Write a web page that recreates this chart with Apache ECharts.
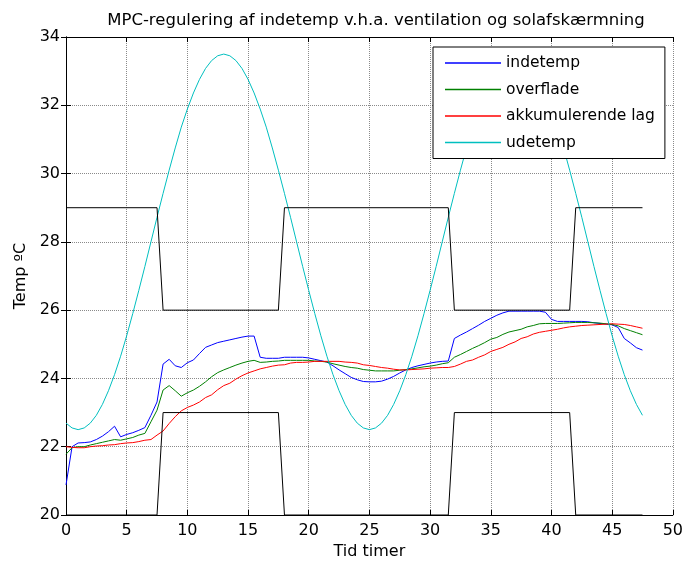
<!DOCTYPE html>
<html lang="da">
<head>
    <meta charset="UTF-8">
    <title>MPC-regulering</title>
    <style>
        html, body {
            margin: 0;
            padding: 0;
            background-color: #fff;
        }
    </style>
</head>
<body>
<div id="chart" style="width: 686px;height:569px;"></div>
<script src="https://cdn.jsdelivr.net/npm/echarts@6/dist/echarts.min.js"></script>
<script>
    // tid i timer, halvtimes skridt
    var tider = [
        0, 0.5, 1, 1.5, 2, 2.5, 3, 3.5,
        4, 4.5, 5, 5.5, 6, 6.5, 7, 7.5,
        8, 8.5, 9, 9.5, 10, 10.5, 11, 11.5,
        12, 12.5, 13, 13.5, 14, 14.5, 15, 15.5,
        16, 16.5, 17, 17.5, 18, 18.5, 19, 19.5,
        20, 20.5, 21, 21.5, 22, 22.5, 23, 23.5,
        24, 24.5, 25, 25.5, 26, 26.5, 27, 27.5,
        28, 28.5, 29, 29.5, 30, 30.5, 31, 31.5,
        32, 32.5, 33, 33.5, 34, 34.5, 35, 35.5,
        36, 36.5, 37, 37.5, 38, 38.5, 39, 39.5,
        40, 40.5, 41, 41.5, 42, 42.5, 43, 43.5,
        44, 44.5, 45, 45.5, 46, 46.5, 47, 47.5
    ];
    var indetemp = [
        20.88, 22.0, 22.11, 22.12, 22.14, 22.21, 22.31, 22.44,
        22.6, 22.29, 22.36, 22.41, 22.48, 22.56, 22.92, 23.31,
        24.42, 24.56, 24.37, 24.32, 24.46, 24.54, 24.73, 24.91,
        24.98, 25.05, 25.09, 25.13, 25.17, 25.21, 25.24, 25.24,
        24.62, 24.59, 24.59, 24.59, 24.62, 24.62, 24.62, 24.62,
        24.6, 24.56, 24.52, 24.48, 24.37, 24.25, 24.14, 24.03,
        23.96, 23.91, 23.9, 23.9, 23.92, 23.98, 24.06, 24.16,
        24.25, 24.32, 24.37, 24.41, 24.45, 24.48, 24.5, 24.51,
        25.17, 25.27, 25.36, 25.46, 25.56, 25.67, 25.76, 25.85,
        25.92, 25.97, 25.97, 25.97, 25.97, 25.97, 25.97, 25.94,
        25.73, 25.67, 25.67, 25.67, 25.67, 25.67, 25.66, 25.63,
        25.61, 25.59, 25.57, 25.49, 25.17, 25.04, 24.9, 24.83
    ];
    var overflade = [
        21.78, 21.97, 22.0, 22.0, 22.05, 22.09, 22.13, 22.17,
        22.21, 22.19, 22.23, 22.27, 22.34, 22.39, 22.73, 23.07,
        23.66, 23.79, 23.64, 23.48, 23.58, 23.66, 23.77, 23.9,
        24.05, 24.17, 24.25, 24.32, 24.39, 24.45, 24.5, 24.53,
        24.47, 24.48, 24.5, 24.51, 24.53, 24.53, 24.53, 24.53,
        24.53, 24.51, 24.5, 24.48, 24.43, 24.39, 24.35, 24.32,
        24.3, 24.26, 24.24, 24.22, 24.22, 24.22, 24.22, 24.24,
        24.26, 24.28, 24.31, 24.34, 24.36, 24.39, 24.43, 24.46,
        24.62, 24.7, 24.79, 24.88, 24.96, 25.05, 25.15, 25.2,
        25.29, 25.36, 25.4, 25.44, 25.51, 25.55, 25.6, 25.61,
        25.61, 25.61, 25.62, 25.63, 25.64, 25.64, 25.64, 25.63,
        25.62, 25.6, 25.58, 25.54, 25.46, 25.4, 25.34, 25.28
    ];
    var akkLag = [
        22.0, 21.98, 21.97, 21.97, 22.0, 22.02, 22.03, 22.05,
        22.06, 22.09, 22.11, 22.12, 22.15, 22.19, 22.21, 22.34,
        22.46, 22.68, 22.88, 23.05, 23.15, 23.22, 23.31, 23.44,
        23.52, 23.67, 23.79, 23.86, 23.98, 24.08, 24.16, 24.22,
        24.28, 24.32, 24.36, 24.39, 24.4, 24.45, 24.47, 24.47,
        24.48, 24.5, 24.5, 24.5, 24.5, 24.5, 24.48, 24.47,
        24.45, 24.4, 24.38, 24.35, 24.32, 24.3, 24.27, 24.25,
        24.25, 24.26, 24.27, 24.28, 24.3, 24.31, 24.32, 24.32,
        24.35, 24.42, 24.5, 24.54, 24.62, 24.69, 24.79, 24.85,
        24.91, 25.0, 25.07, 25.17, 25.22, 25.3, 25.35, 25.38,
        25.41, 25.44, 25.48, 25.51, 25.53, 25.55, 25.56, 25.57,
        25.58, 25.59, 25.6, 25.59, 25.58, 25.55, 25.51, 25.47
    ];
    var udetemp = [
        22.69, 22.55, 22.5, 22.55, 22.69, 22.92, 23.24, 23.64,
        24.11, 24.65, 25.25, 25.9, 26.58, 27.28, 28.0, 28.72,
        29.42, 30.1, 30.75, 31.36, 31.89, 32.36, 32.76, 33.08,
        33.31, 33.45, 33.5, 33.45, 33.31, 33.08, 32.76, 32.36,
        31.89, 31.36, 30.75, 30.1, 29.42, 28.72, 28.0, 27.28,
        26.58, 25.9, 25.25, 24.65, 24.11, 23.64, 23.24, 22.92,
        22.69, 22.55, 22.5, 22.55, 22.69, 22.92, 23.24, 23.64,
        24.11, 24.65, 25.25, 25.9, 26.58, 27.28, 28.0, 28.72,
        29.42, 30.1, 30.75, 31.36, 31.89, 32.36, 32.76, 33.08,
        33.31, 33.45, 33.5, 33.45, 33.31, 33.08, 32.76, 32.36,
        31.89, 31.36, 30.75, 30.1, 29.42, 28.72, 28.0, 27.28,
        26.58, 25.9, 25.25, 24.65, 24.11, 23.64, 23.24, 22.92
    ];
    // styresignaler (ventilation / solafskærmning), kun knækpunkter
    var signalTider = [0, 7.5, 8, 17.5, 18, 31.5, 32, 41.5, 42, 47.5];
    var ventilation = [29, 29, 26, 26, 29, 29, 26, 26, 29, 29];
    var solafskaerm = [20, 20, 23, 23, 20, 20, 23, 23, 20, 20];

    var xTicks = [0, 5, 10, 15, 20, 25, 30, 35, 40, 45, 50];
    var yTicks = [20, 22, 24, 26, 28, 30, 32, 34];

    function par(xs, ys) {
        var ud = [];
        for (var i = 0; i < xs.length; i++) {
            ud.push([xs[i], ys[i]]);
        }
        return ud;
    }

    var font = 'DejaVu Sans';
    var lineSerie = function(name, data, color) {
        return {
            name: name,
            type: 'line',
            data: data,
            symbol: 'none',
            showSymbol: false,
            lineStyle: {color: color, width: 1},
            itemStyle: {color: color},
            emphasis: {disabled: true},
            animation: false
        };
    };

    var myChart = echarts.init(document.getElementById('chart'));
    var option = {
        textStyle: {fontFamily: font},
        title: {
            text: 'MPC-regulering af indetemp v.h.a. ventilation og solafskærmning',
            left: 371,
            textAlign: 'center',
            top: 7,
            textStyle: {fontFamily: font, fontSize: 16.5, fontWeight: 'normal', color: '#000'}
        },
        legend: {
            data: ['indetemp', 'overflade', 'akkumulerende lag', 'udetemp'],
            orient: 'vertical',
            left: 433,
            top: 47,
            padding: [6, 10, 6, 12],
            itemGap: 6.5,
            itemWidth: 56,
            itemHeight: 1.5,
            icon: 'rect',
            itemTextGap: 5,
            backgroundColor: '#fff',
            borderColor: '#000',
            borderWidth: 1,
            borderRadius: 0,
            textStyle: {fontFamily: font, fontSize: 15.5, color: '#000', lineHeight: 20}
        },
        grid: {
            left: 66,
            top: 37,
            width: 607,
            height: 478
        },
        xAxis: [{
            type: 'value',
            min: xTicks[0],
            max: xTicks[xTicks.length - 1],
            interval: 5,
            name: 'Tid timer',
            nameLocation: 'middle',
            nameGap: 28,
            nameTextStyle: {fontFamily: font, fontSize: 16, color: '#000'},
            axisLine: {lineStyle: {color: '#000', width: 1}},
            axisTick: {inside: true, length: 5, lineStyle: {color: '#000'}},
            axisLabel: {fontFamily: font, fontSize: 16, color: '#000', margin: 8},
            splitLine: {show: true, lineStyle: {color: '#8a8a8a', type: 'dotted', width: 1}}
        }, {
            type: 'value',
            position: 'top',
            min: xTicks[0],
            max: xTicks[xTicks.length - 1],
            interval: 5,
            axisLine: {lineStyle: {color: '#000', width: 1}},
            axisTick: {inside: true, length: 5, lineStyle: {color: '#000'}},
            axisLabel: {show: false},
            splitLine: {show: false}
        }],
        yAxis: [{
            type: 'value',
            min: yTicks[0],
            max: yTicks[yTicks.length - 1],
            interval: 2,
            name: 'Temp ºC',
            nameLocation: 'middle',
            nameGap: 36,
            nameTextStyle: {fontFamily: font, fontSize: 16, color: '#000'},
            axisLine: {show: true, lineStyle: {color: '#000', width: 1}},
            axisTick: {show: true, inside: true, length: 5, lineStyle: {color: '#000'}},
            axisLabel: {fontFamily: font, fontSize: 16, color: '#000', margin: 6},
            splitLine: {show: true, lineStyle: {color: '#8a8a8a', type: 'dotted', width: 1}}
        }, {
            type: 'value',
            position: 'right',
            min: yTicks[0],
            max: yTicks[yTicks.length - 1],
            interval: 2,
            axisLine: {show: true, lineStyle: {color: '#000', width: 1}},
            axisTick: {show: true, inside: true, length: 5, lineStyle: {color: '#000'}},
            axisLabel: {show: false},
            splitLine: {show: false}
        }],
        series: [
            lineSerie('indetemp', par(tider, indetemp), '#0000ff'),
            lineSerie('overflade', par(tider, overflade), '#008000'),
            lineSerie('akkumulerende lag', par(tider, akkLag), '#ff0000'),
            lineSerie('udetemp', par(tider, udetemp), '#00bfbf'),
            lineSerie('ventilation', par(signalTider, ventilation), '#000000'),
            lineSerie('solafskærmning', par(signalTider, solafskaerm), '#000000')
        ]
    };
    myChart.setOption(option);
</script>
</body>
</html>
